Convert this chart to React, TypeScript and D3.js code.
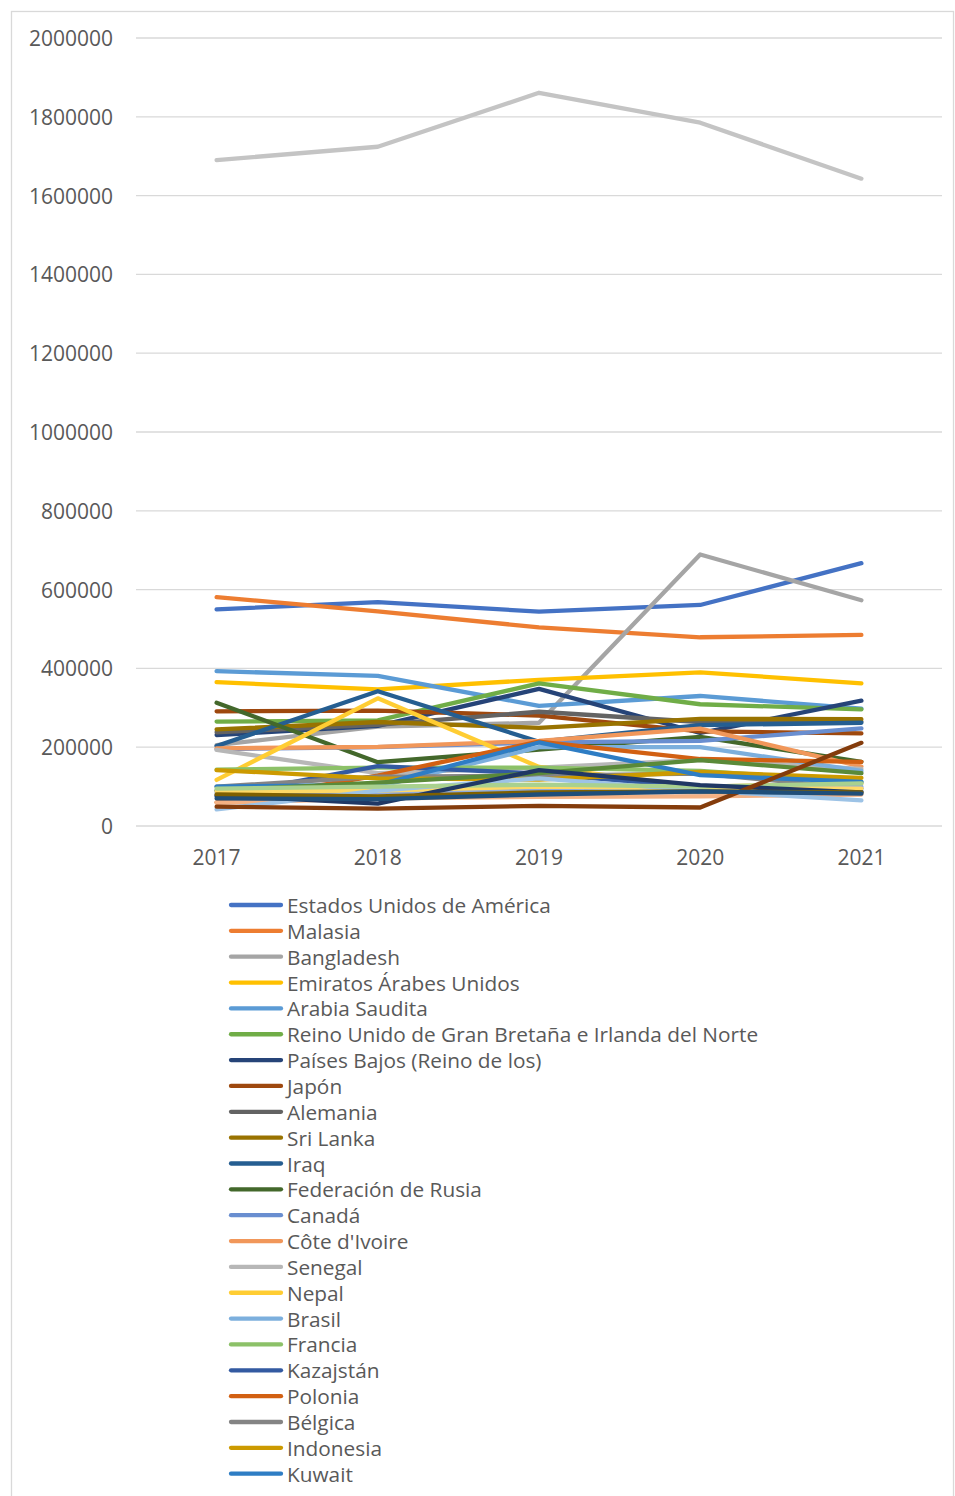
import React from "react";
import * as d3 from "d3";

const years = ["2017", "2018", "2019", "2020", "2021"];
const yTicks = [0, 200000, 400000, 600000, 800000, 1000000, 1200000, 1400000, 1600000, 1800000, 2000000];

const estadosUnidos = [550000, 568000, 544000, 561000, 667000];
const malasia = [581000, 545000, 504000, 479000, 485000];
const bangladesh = [205000, 252000, 262000, 689000, 573000];
const emiratos = [365000, 347000, 371000, 390000, 362000];
const arabiaSaudita = [393000, 381000, 305000, 330000, 298000];
const reinoUnido = [265000, 268000, 362000, 309000, 296000];
const paisesBajos = [231000, 254000, 348000, 236000, 318000];
const japon = [291000, 293000, 280000, 240000, 235000];
const alemania = [238000, 257000, 290000, 264000, 265000];
const sriLanka = [245000, 264000, 249000, 272000, 271000];
const iraq = [203000, 342000, 214000, 256000, 262000];
const rusia = [313000, 162000, 194000, 226000, 163000];
const canada = [195000, 200000, 212000, 216000, 248000];
const coteIvoire = [197000, 201000, 216000, 247000, 151000];
const senegal = [193000, 134000, 148000, 168000, 145000];
const nepal = [117000, 324000, 150000, 100000, 108000];
const brasil = [90000, 100000, 200000, 200000, 140000];
const francia = [143000, 148000, 148000, 140000, 112000];
const kazajstan = [75000, 152000, 133000, 98000, 88000];
const polonia = [60000, 128000, 214000, 170000, 163000];
const belgica = [100000, 125000, 128000, 133000, 95000];
const indonesia = [142000, 121000, 118000, 137000, 122000];
const kuwait = [100000, 104000, 212000, 129000, 112000];
const serie24 = [90000, 110000, 134000, 167000, 134000];
const serie25 = [85000, 85000, 90000, 85000, 100000];
const serie26 = [59000, 70000, 74000, 75000, 80000];
const serie27 = [1690000, 1724000, 1861000, 1785000, 1643000];
const serie28 = [88000, 90000, 100000, 97000, 95000];
const serie29 = [42000, 90000, 121000, 90000, 65000];
const serie30 = [95000, 100000, 105000, 100000, 108000];
const serie31 = [78000, 57000, 142000, 104000, 85000];
const serie32 = [49000, 44000, 51000, 47000, 211000];
const serie34 = [80000, 75000, 85000, 88000, 85000];
const serie35 = [70000, 68000, 80000, 88000, 82000];

const seriesNames = [
  "Estados Unidos de América", "Malasia", "Bangladesh", "Emiratos Árabes Unidos", "Arabia Saudita",
  "Reino Unido de Gran Bretaña e Irlanda del Norte", "Países Bajos (Reino de los)", "Japón", "Alemania",
  "Sri Lanka", "Iraq", "Federación de Rusia", "Canadá", "Côte d'Ivoire", "Senegal", "Nepal", "Brasil",
  "Francia", "Kazajstán", "Polonia", "Bélgica", "Indonesia", "Kuwait",
  "Serie 24", "Serie 25", "Serie 26", "Serie 27", "Serie 28", "Serie 29", "Serie 30", "Serie 31",
  "Serie 32", "Serie 34", "Serie 35",
];
const seriesValues = [
  estadosUnidos, malasia, bangladesh, emiratos, arabiaSaudita, reinoUnido, paisesBajos, japon, alemania,
  sriLanka, iraq, rusia, canada, coteIvoire, senegal, nepal, brasil, francia, kazajstan, polonia, belgica,
  indonesia, kuwait, serie24, serie25, serie26, serie27, serie28, serie29, serie30, serie31, serie32,
  serie34, serie35,
];
const seriesColors = [
  "#4472C4", "#ED7D31", "#A5A5A5", "#FFC000", "#5B9BD5", "#70AD47", "#264478", "#9E480E", "#636363",
  "#997300", "#255E91", "#43682B", "#698ED0", "#F1975A", "#B7B7B7", "#FFCD33", "#7CAFDD", "#8CC168",
  "#335AA1", "#D26012", "#848484", "#CC9A00", "#2E7DC4",
  "#5A8A39", "#8FAADC", "#F4B183", "#C4C4C4", "#FFD966", "#9DC3E6", "#A9D18E", "#203864", "#843C0C",
  "#7F6000", "#1F4E79",
];
const legendCount = 23;

export default function App() {
  const W = 955;
  const H = 1496;
  const x = d3.scaleBand<string>().domain(years).range([136, 942]);
  const y = d3.scaleLinear().domain([0, 2000000]).range([826, 38]);
  const cx = (yr: string) => (x(yr) as number) + x.bandwidth() / 2;
  const line = d3
    .line<number>()
    .x((_, i) => cx(years[i]))
    .y((v) => y(v));
  const font = "'Open Sans', sans-serif";
  const textColor = "#595959";
  const legendY0 = 905;
  const legendStep = 25.85;

  return (
    <div style={{ position: "absolute", left: 0, top: 0 }}>
      <svg width={W} height={H} style={{ display: "block", background: "#fff" }}>
        <rect x={11.5} y={11.5} width={942} height={1520} fill="#fff" stroke="#D9D9D9" strokeWidth={1.3} />
        {yTicks.map((t) => (
          <g key={t}>
            <line x1={136} x2={942} y1={y(t)} y2={y(t)} stroke="#D9D9D9" strokeWidth={1.3} />
            <text
              x={113}
              y={y(t)}
              textAnchor="end"
              dominantBaseline="central"
              fontFamily={font}
              fontSize={21}
              fill={textColor}
            >
              {t}
            </text>
          </g>
        ))}
        {years.map((yr) => (
          <text
            key={yr}
            x={cx(yr)}
            y={857}
            textAnchor="middle"
            dominantBaseline="central"
            fontFamily={font}
            fontSize={21}
            fill={textColor}
          >
            {yr}
          </text>
        ))}
        {seriesValues.map((vals, i) => (
          <path
            key={seriesNames[i]}
            d={line(vals) as string}
            fill="none"
            stroke={seriesColors[i]}
            strokeWidth={4.3}
            strokeLinecap="round"
            strokeLinejoin="round"
          />
        ))}
        {seriesNames.slice(0, legendCount).map((name, i) => {
          const ly = legendY0 + i * legendStep;
          return (
            <g key={name}>
              <line x1={231} x2={281} y1={ly} y2={ly} stroke={seriesColors[i]} strokeWidth={4.3} strokeLinecap="round" />
              <text x={287} y={ly} dominantBaseline="central" fontFamily={font} fontSize={20.8} fill={textColor}>
                {name}
              </text>
            </g>
          );
        })}
      </svg>
    </div>
  );
}
